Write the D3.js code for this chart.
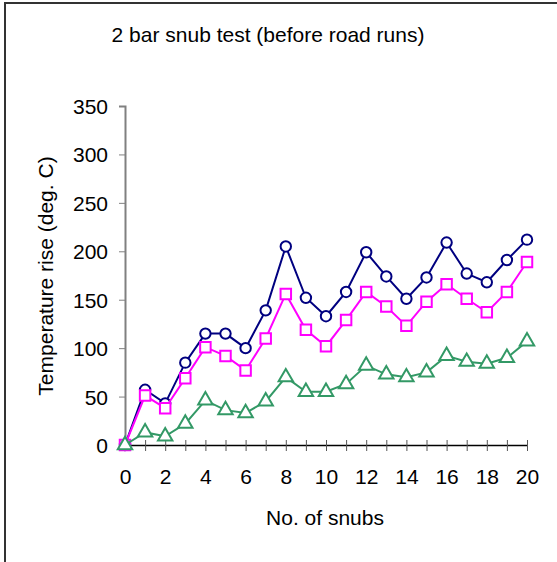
<!DOCTYPE html>
<html>
<head>
<meta charset="utf-8">
<script src="https://cdn.jsdelivr.net/npm/d3@7"></script>
<style>
  body { margin: 0; background: #fff; }
  text { font-family: "Liberation Sans", Arial, sans-serif; fill: #000; }
</style>
</head>
<body>
<svg id="chart" width="557" height="562"></svg>
<script>
// snub number 0..20
var snubs = [0, 1, 2, 3, 4, 5, 6, 7, 8, 9, 10, 11, 12, 13, 14, 15, 16, 17, 18, 19, 20];
// three temperature series (deg. C)
var circleSeries = [0, 57, 43, 85, 115, 115, 100, 139, 205, 152, 133, 158, 199, 174, 151, 173, 209, 177, 168, 191, 212];
var squareSeries = [0, 51, 38, 69, 101, 92, 77, 110, 156, 119, 102, 129, 158, 143, 123, 148, 166, 151, 137, 158, 189];
var triangleSeries = [0, 13, 9, 22, 46, 36, 33, 45, 70, 55, 55, 63, 82, 73, 70, 75, 92, 86, 84, 90, 107];
var yTicks = [0, 50, 100, 150, 200, 250, 300, 350];
var xLabelTicks = [0, 2, 4, 6, 8, 10, 12, 14, 16, 18, 20];

var fontSize = '21px';
var svg = d3.select('#chart');

// outer frame, only top and left show in the picture
svg.append('rect')
  .attr('x', 5).attr('y', 3)
  .attr('width', 600).attr('height', 600)
  .style('fill', 'none')
  .style('stroke', '#333')
  .style('stroke-width', 2);

var x = d3.scaleLinear().domain([0, 20]).range([125, 527]);
var y = d3.scaleLinear().domain([0, 350]).range([445, 106]);

// y axis (gray)
var yAxis = svg.append('g')
  .attr('transform', 'translate(125,0)')
  .call(d3.axisLeft(y).tickValues(yTicks).tickSize(6).tickPadding(11));
yAxis.select('.domain').attr('stroke', '#808080').attr('stroke-width', 2);
yAxis.selectAll('.tick line').attr('stroke', '#808080');
yAxis.selectAll('.tick text').style('font-size', fontSize).attr('dy', '0.36em');

// x axis (black), minor ticks at each snub
var xAxis = svg.append('g')
  .attr('transform', 'translate(0,445)')
  .call(d3.axisBottom(x).tickValues(snubs).tickSize(6).tickSizeOuter(0)
    .tickFormat(function (d) { return xLabelTicks.indexOf(d) >= 0 ? d : ''; }));
xAxis.select('.domain').attr('stroke', '#000').attr('stroke-width', 1.5);
xAxis.selectAll('.tick line').attr('stroke', '#555').attr('y1', -5).attr('y2', 6);
xAxis.selectAll('.tick text').style('font-size', fontSize).attr('y', 0).attr('dy', '1.85em');

// titles
svg.append('text')
  .attr('x', 268).attr('y', 42)
  .attr('text-anchor', 'middle')
  .style('font-size', fontSize)
  .text('2 bar snub test (before road runs)');

svg.append('text')
  .attr('x', 325).attr('y', 525)
  .attr('text-anchor', 'middle')
  .style('font-size', fontSize)
  .text('No. of snubs');

svg.append('text')
  .attr('transform', 'translate(53,276) rotate(-90)')
  .attr('text-anchor', 'middle')
  .style('font-size', fontSize)
  .text('Temperature rise (deg. C)');

var line = d3.line()
  .x(function (d, i) { return x(snubs[i]); })
  .y(function (d) { return y(d); });

function drawSeries(vals, color, shape) {
  var g = svg.append('g');
  g.append('path')
    .datum(vals)
    .attr('d', line)
    .style('fill', 'none')
    .style('stroke', color)
    .style('stroke-width', 2);

  var sym = d3.symbol().type(shape.type).size(shape.size);
  g.selectAll('path.mark')
    .data(vals)
    .enter()
    .append('path')
    .attr('class', 'mark')
    .attr('d', sym)
    .attr('transform', function (d, i) {
      return 'translate(' + x(snubs[i]) + ',' + y(d) + ')';
    })
    .style('fill', '#fff')
    .style('stroke', color)
    .style('stroke-width', 2);
}

drawSeries(circleSeries, '#000080', { type: d3.symbolCircle, size: 85 });
drawSeries(squareSeries, '#FF00FF', { type: d3.symbolSquare, size: 110 });
drawSeries(triangleSeries, '#339966', { type: d3.symbolTriangle, size: 90 });
</script>
</body>
</html>
